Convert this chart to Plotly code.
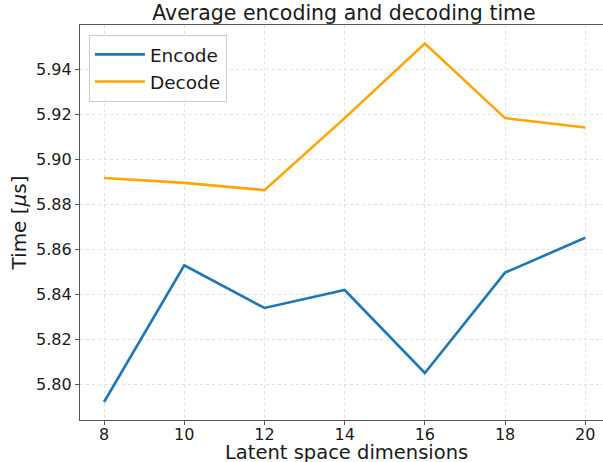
import plotly.graph_objects as go

dims = [8, 10, 12, 14, 16, 18, 20]
encode = [5.7920, 5.8528, 5.8338, 5.8418, 5.8049, 5.8495, 5.8650]
decode = [5.8916, 5.8894, 5.8862, 5.9182, 5.9514, 5.9182, 5.9140]
x_ticks = [8, 10, 12, 14, 16, 18, 20]
y_ticks = [5.80, 5.82, 5.84, 5.86, 5.88, 5.90, 5.92, 5.94]

FONT = "DejaVu Sans"
AXCOL = "#555555"
GRIDCOL = "#e2e2e2"

fig = go.Figure()
fig.add_trace(go.Scatter(x=dims, y=encode, mode="lines", name="Encode",
                         line=dict(color="#1f77b4", width=2.6)))
fig.add_trace(go.Scatter(x=dims, y=decode, mode="lines", name="Decode",
                         line=dict(color="#ffa500", width=2.6)))

fig.update_layout(
    width=603, height=462,
    margin=dict(l=80, r=0, t=25, b=42, autoexpand=False),
    paper_bgcolor="white", plot_bgcolor="white",
    font=dict(family=FONT, size=16, color="#1a1a1a"),
    title=dict(text="Average encoding and decoding time", x=344/603, xanchor="center",
               xref="container", y=1 - 13/462, yref="container", yanchor="middle",
               font=dict(size=20.5, family=FONT, color="#1a1a1a")),
    showlegend=True,
    legend=dict(x=0.017, y=0.975, xanchor="left", yanchor="top",
                bgcolor="rgba(255,255,255,0.85)", bordercolor="#cccccc", borderwidth=1,
                font=dict(size=18.5, family=FONT, color="#1a1a1a"),
                itemwidth=50, tracegroupgap=0),
    xaxis=dict(range=[7.4, 7.4 + 523/40.1], tickvals=x_ticks,
               ticktext=[str(v) for v in x_ticks],
               showline=True, linecolor=AXCOL, linewidth=1.2, mirror=True,
               ticks="outside", ticklen=4, tickcolor=AXCOL, tickwidth=1,
               ticklabelstandoff=-4,
               showgrid=True, gridcolor=GRIDCOL, griddash="dot", gridwidth=0.8,
               zeroline=False, tickfont=dict(size=16, family=FONT)),
    yaxis=dict(range=[5.7840, 5.9596], tickvals=y_ticks,
               ticktext=[f"{v:.2f}" for v in y_ticks],
               showline=True, linecolor=AXCOL, linewidth=1.2, mirror=False,
               ticks="outside", ticklen=4, tickcolor=AXCOL, tickwidth=1,
               showgrid=True, gridcolor=GRIDCOL, griddash="dot", gridwidth=0.8,
               zeroline=False, tickfont=dict(size=16, family=FONT),
               title=dict(text="Time [<i>μ</i>s]", standoff=4,
                          font=dict(size=20, family=FONT))),
    annotations=[dict(text="Latent space dimensions", xref="paper", yref="paper",
                      x=(346 - 80) / 523, y=0, xanchor="center", yanchor="middle",
                      yshift=-32, showarrow=False,
                      font=dict(size=19.5, family=FONT, color="#1a1a1a"))],
)

fig.write_html("out.html")
